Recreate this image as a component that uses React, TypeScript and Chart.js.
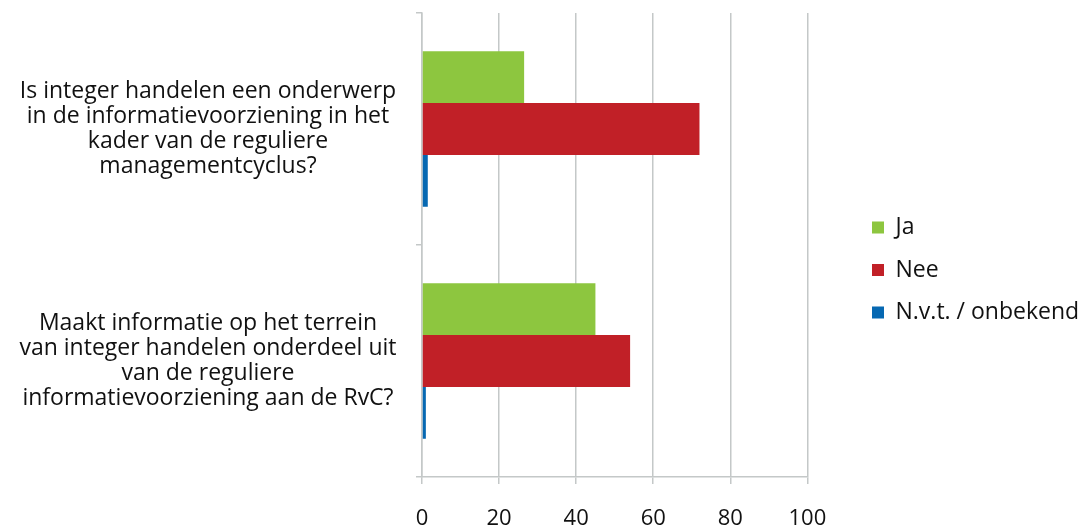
import React, { useEffect, useRef } from "react";
import { Chart, registerables } from "chart.js";

Chart.register(...registerables);

const categories: string[][] = [
  ["Is integer handelen een onderwerp", "in de informatievoorziening in het", "kader van de reguliere", "managementcyclus?"],
  ["Maakt informatie op het terrein", "van integer handelen onderdeel uit", "van de reguliere", "informatievoorziening aan de RvC?"],
];
const seriesNames = ["Ja", "Nee", "N.v.t. / onbekend"];
const jaValues = [26.5, 45];
const neeValues = [72, 54];
const nvtValues = [1.5, 1];
const xTicks = [0, 20, 40, 60, 80, 100];
const seriesColors = ["#8DC63F", "#C12027", "#0668B2"];

const FONT = "'Open Sans', sans-serif";
const GRID = "#C4C8C8";

export default function App() {
  const ref = useRef<HTMLCanvasElement | null>(null);
  useEffect(() => {
    if (!ref.current) return;
    const legendShift = {
      id: "legendShift",
      afterLayout(chart: any) {
        const l = chart.legend;
        if (!l) return;
        const targetLeft = 872 - l.options.labels.padding;
        const dx = targetLeft - l.left;
        l.left += dx;
        l.right += dx;
      },
    };
    const chart = new Chart(ref.current, {
      type: "bar",
      data: {
        labels: categories,
        datasets: [jaValues, neeValues, nvtValues].map((d, i) => ({
          label: seriesNames[i],
          data: d,
          backgroundColor: seriesColors[i],
          borderWidth: 0,
          categoryPercentage: 0.67,
          barPercentage: 1,
        })),
      },
      options: {
        indexAxis: "y",
        animation: false,
        responsive: false,
        layout: { padding: { top: 13, left: 0, right: 38, bottom: 0 } },
        plugins: {
          tooltip: { enabled: false },
          legend: {
            position: "right",
            align: "center",
            labels: {
              font: { family: FONT, size: 23 },
              color: "#111",
              boxWidth: 12,
              boxHeight: 12,
              padding: 19.5,
            },
          },
        },
        scales: {
          x: {
            min: 0,
            max: 100,
            afterBuildTicks: (s: any) => {
              s.ticks = xTicks.map((v) => ({ value: v }));
            },
            afterFit: (s: any) => {
              s.height = 50;
              s.paddingLeft = 0;
            },
            grid: { color: GRID, lineWidth: 1.5, tickLength: 7, drawTicks: true },
            border: { color: GRID, width: 1.5 },
            ticks: {
              font: { family: FONT, size: 22 },
              color: "#111",
              padding: 22,
            },
          },
          y: {
            afterFit: (s: any) => {
              s.width = 422;
              s.paddingTop = 0;
              s.paddingBottom = 0;
            },
            grid: { drawOnChartArea: false, color: GRID, lineWidth: 1.5, tickLength: 6, offset: true },
            border: { color: GRID, width: 1.5 },
            ticks: {
              font: { family: FONT, size: 23, lineHeight: 1.09 },
              color: "#111",
              crossAlign: "center",
              padding: 19.5,
            },
          },
        },
      },
      plugins: [legendShift],
    } as any);
    return () => chart.destroy();
  }, []);
  return (
    <div style={{ position: "absolute", left: 0, top: 0, width: 1082, height: 527, background: "#fff" }}>
      <canvas ref={ref} width={1082} height={527} style={{ display: "block" }} />
    </div>
  );
}
